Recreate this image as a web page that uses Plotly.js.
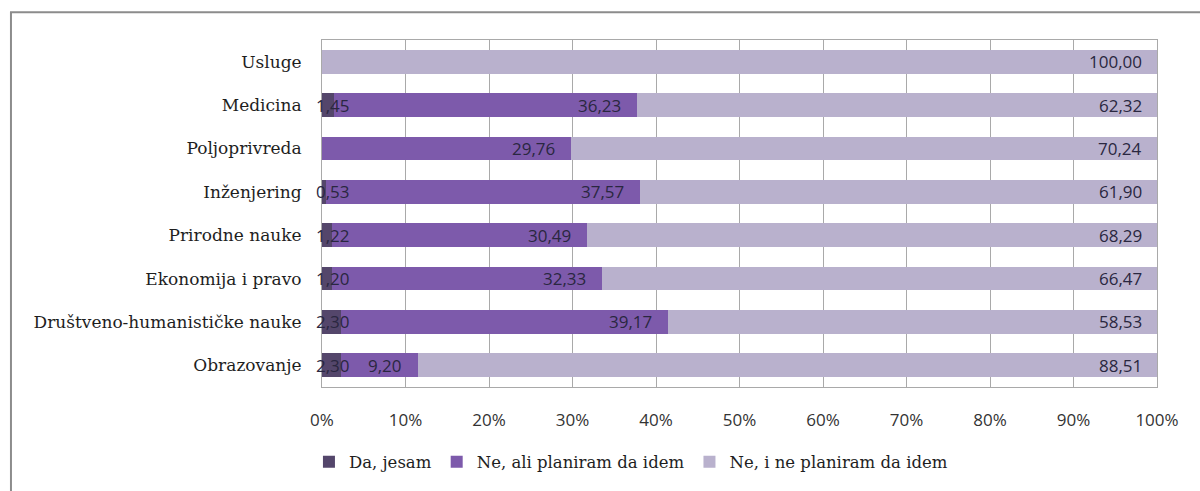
<!DOCTYPE html>
<html>
<head>
<meta charset="utf-8">
<script src="https://cdn.plot.ly/plotly-3.0.1.min.js"></script>
<style>
  html, body { margin: 0; padding: 0; background: #ffffff; }
  #chart { width: 1200px; height: 491px; }
</style>
</head>
<body>
<div id="chart"></div>
<script>
// Categories (bottom to top)
const categories = [
  'Obrazovanje',
  'Društveno-humanističke nauke',
  'Ekonomija i pravo',
  'Prirodne nauke',
  'Inženjering',
  'Poljoprivreda',
  'Medicina',
  'Usluge'
];
// Series values (%)
const daJesam        = [2.30, 2.30, 1.20, 1.22, 0.53, 0.00, 1.45, 0.00];
const neAliPlaniram  = [9.20, 39.17, 32.33, 30.49, 37.57, 29.76, 36.23, 0.00];
const neINePlaniram  = [88.51, 58.53, 66.47, 68.29, 61.90, 70.24, 62.32, 100.00];
const seriesNames = ['Da, jesam', 'Ne, ali planiram da idem', 'Ne, i ne planiram da idem'];
// Tick labels
const xTickVals = [0, 10, 20, 30, 40, 50, 60, 70, 80, 90, 100];
const xTickText = ['0%', '10%', '20%', '30%', '40%', '50%', '60%', '70%', '80%', '90%', '100%'];

const colors = ['#54466b', '#7d5aab', '#b9b1cd'];
const fmt = v => v.toFixed(2).replace('.', ',');

const traces = [daJesam, neAliPlaniram, neINePlaniram].map((vals, i) => ({
  type: 'bar',
  orientation: 'h',
  name: seriesNames[i],
  y: categories,
  x: vals,
  marker: { color: colors[i], line: { width: 0 } },
  hoverinfo: 'skip'
}));

const labelFont = { family: 'Open Sans, sans-serif', size: 17, color: '#2a2740' };
const annotations = [];
categories.forEach((c, k) => {
  if (daJesam[k] > 0) {
    annotations.push({ x: 0, y: c, xref: 'x', yref: 'y', text: fmt(daJesam[k]),
      showarrow: false, xanchor: 'left', xshift: -8, font: labelFont });
  }
  if (neAliPlaniram[k] > 0) {
    annotations.push({ x: daJesam[k] + neAliPlaniram[k], y: c, xref: 'x', yref: 'y',
      text: fmt(neAliPlaniram[k]), showarrow: false, xanchor: 'right', xshift: -14, font: labelFont });
  }
  if (neINePlaniram[k] > 0) {
    annotations.push({ x: Math.min(100, daJesam[k] + neAliPlaniram[k] + neINePlaniram[k]), y: c,
      xref: 'x', yref: 'y', text: fmt(neINePlaniram[k]), showarrow: false, xanchor: 'right',
      xshift: -13, font: labelFont });
  }
});

const layout = {
  width: 1200,
  height: 491,
  paper_bgcolor: '#ffffff',
  plot_bgcolor: '#ffffff',
  margin: { l: 322, r: 43, t: 40, b: 100, pad: 0 },
  barmode: 'stack',
  bargap: 0.45,
  showlegend: true,
  legend: {
    orientation: 'h',
    x: 0.37, xanchor: 'center',
    y: -0.216, yanchor: 'middle',
    font: { family: 'DejaVu Serif, serif', size: 16.5, color: '#1e1e1e' },
    itemwidth: 30,
    traceorder: 'normal',
    bgcolor: 'rgba(0,0,0,0)'
  },
  xaxis: {
    range: [0, 100],
    tickvals: xTickVals,
    ticktext: xTickText,
    showgrid: true,
    gridcolor: '#a9a9a9',
    gridwidth: 1,
    zeroline: false,
    showline: true,
    mirror: true,
    linecolor: '#a9a9a9',
    linewidth: 1,
    ticks: '',
    ticklabelstandoff: 18,
    tickfont: { family: 'Open Sans, sans-serif', size: 17, color: '#333333' },
    fixedrange: true
  },
  yaxis: {
    type: 'category',
    categoryorder: 'array',
    categoryarray: categories,
    showgrid: false,
    zeroline: false,
    showline: true,
    mirror: true,
    linecolor: '#a9a9a9',
    linewidth: 1,
    ticks: '',
    ticklabelstandoff: 16,
    tickfont: { family: 'DejaVu Serif, serif', size: 17, color: '#1e1e1e' },
    fixedrange: true
  },
  annotations: annotations,
  shapes: [{
    type: 'rect', xref: 'paper', yref: 'paper',
    x0: -0.3725, x1: 1.2, y0: -0.5, y1: 1.0798,
    line: { color: '#8c8c8c', width: 2 }, fillcolor: 'rgba(0,0,0,0)', layer: 'below'
  }]
};

Plotly.newPlot('chart', traces, layout, { displayModeBar: false, staticPlot: true });
</script>
</body>
</html>
